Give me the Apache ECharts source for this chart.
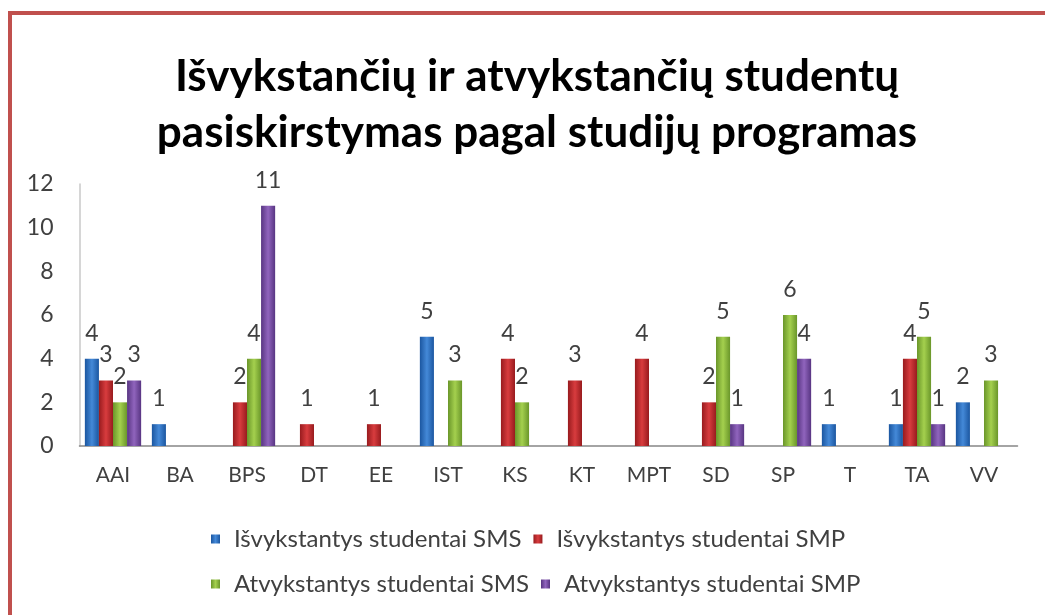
<!DOCTYPE html>
<html>
<head>
<meta charset="utf-8">
<script src="https://cdn.jsdelivr.net/npm/echarts@6/dist/echarts.min.js"></script>
<style>
  html, body { margin: 0; padding: 0; background: #fff; }
  .wrap { position: relative; width: 1045px; height: 615px; overflow: hidden; }
  .frame {
    position: absolute; left: 8px; top: 11px; right: -10px; bottom: -10px;
    border-top: 4px solid #c0504d; border-left: 4px solid #c0504d;
    pointer-events: none;
  }
  #chart { width: 1045px; height: 615px; }
</style>
</head>
<body>
<div class="wrap">
  <div id="chart"></div>
  <div class="frame"></div>
</div>
<script>
// studijų programos
const categories = ['AAI', 'BA', 'BPS', 'DT', 'EE', 'IST', 'KS', 'KT', 'MPT', 'SD', 'SP', 'T', 'TA', 'VV'];

const outSMS = [4, 1, null, null, null, 5, null, null, null, null, null, 1, 1, 2];
const outSMP = [3, null, 2, 1, 1, null, 4, 3, 4, 2, null, null, 4, null];
const inSMS  = [2, null, 4, null, null, 3, 2, null, null, 5, 6, null, 5, 3];
const inSMP  = [3, null, 11, null, null, null, null, null, null, 1, 4, null, 1, null];

const yTicks = [0, 2, 4, 6, 8, 10, 12];

const seriesNames = [
  'Išvykstantys studentai SMS',
  'Išvykstantys studentai SMP',
  'Atvykstantys studentai SMS',
  'Atvykstantys studentai SMP'
];

const FONT = 'Lato, "Open Sans", sans-serif';

// šviesesnis vidurys, tamsesni kraštai
const shade = (edge, mid) => new echarts.graphic.LinearGradient(0, 0, 1, 0, [
  { offset: 0, color: edge },
  { offset: 0.5, color: mid },
  { offset: 1, color: edge }
]);

const palette = [
  { edge: '#1b56a0', mid: '#4489d8', legend: '#2c6cbf' },
  { edge: '#981b1e', mid: '#d83c3e', legend: '#c0292b' },
  { edge: '#6a962a', mid: '#a4d04e', legend: '#8ab83c' },
  { edge: '#583582', mid: '#9064bd', legend: '#7a4fa3' }
];

const chart = echarts.init(document.getElementById('chart'));

const makeSeries = (name, data, i) => ({
  name: name,
  type: 'bar',
  data: data,
  barGap: '0%',
  barCategoryGap: '16%',
  itemStyle: { color: shade(palette[i].edge, palette[i].mid) },
  label: {
    show: true,
    position: 'top',
    distance: 14,
    fontFamily: FONT,
    fontSize: 23,
    color: '#404040'
  },
  emphasis: { disabled: true }
});

const legendText = { fontFamily: FONT, fontSize: 24, color: '#404040', padding: [0, 0, 0, 9] };

const option = {
  backgroundColor: '#ffffff',
  animation: false,
  color: palette.map(p => p.legend),
  title: {
    text: 'Išvykstančių ir atvykstančių studentų\npasiskirstymas pagal studijų programas',
    left: 532,
    top: 44,
    textAlign: 'center',
    textStyle: {
      fontFamily: FONT,
      fontWeight: 'bold',
      fontSize: 44,
      lineHeight: 56,
      color: '#000'
    }
  },
  legend: [
    {
      data: seriesNames.slice(0, 2),
      left: 206,
      top: 522,
      itemWidth: 9,
      itemHeight: 9,
      itemGap: 12,
      icon: 'rect',
      textStyle: legendText
    },
    {
      data: seriesNames.slice(2, 4),
      left: 206,
      top: 567,
      itemWidth: 9,
      itemHeight: 9,
      itemGap: 12,
      icon: 'rect',
      textStyle: legendText
    }
  ],
  grid: { left: 79.5, right: 27.5, top: 184, bottom: 169, containLabel: false },
  xAxis: {
    type: 'category',
    data: categories,
    axisLine: { lineStyle: { color: '#868686', width: 1.5 } },
    axisTick: { show: false },
    axisLabel: { fontFamily: FONT, fontSize: 21, color: '#404040', margin: 19 }
  },
  yAxis: {
    type: 'value',
    min: yTicks[0],
    max: yTicks[yTicks.length - 1],
    interval: 2,
    axisLine: { show: true, lineStyle: { color: '#c8c8c8', width: 1.5 } },
    axisTick: { show: false },
    splitLine: { show: false },
    axisLabel: { fontFamily: FONT, fontSize: 23, color: '#404040', margin: 26 }
  },
  series: [
    makeSeries(seriesNames[0], outSMS, 0),
    makeSeries(seriesNames[1], outSMP, 1),
    makeSeries(seriesNames[2], inSMS, 2),
    makeSeries(seriesNames[3], inSMP, 3)
  ]
};

chart.setOption(option);
</script>
</body>
</html>
